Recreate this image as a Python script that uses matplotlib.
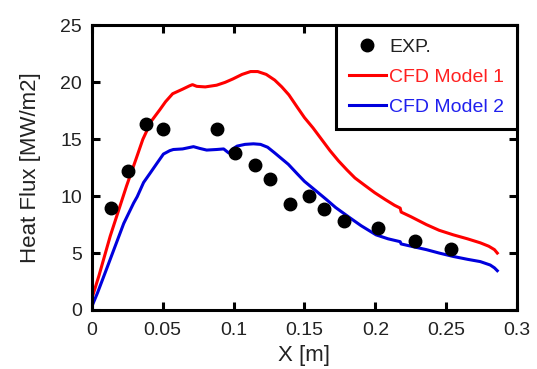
import matplotlib
matplotlib.use("Agg")
import matplotlib.pyplot as plt
from matplotlib.lines import Line2D

plt.rcParams['font.family'] = ['Liberation Sans', 'DejaVu Sans']

# experimental points
exp_x = [0.0134, 0.0255, 0.038, 0.050, 0.088, 0.101, 0.115, 0.126, 0.140, 0.153,
         0.164, 0.178, 0.202, 0.228, 0.253]
exp_y = [9.0, 12.2, 16.3, 15.9, 15.9, 13.8, 12.7, 11.5, 9.3, 10.0,
         8.9, 7.8, 7.2, 6.1, 5.4]

# CFD model 1 (red)
m1_x = [0.0, 0.005, 0.013, 0.0245, 0.031, 0.036, 0.042, 0.048, 0.052, 0.057,
        0.064, 0.069, 0.071, 0.074, 0.080, 0.088, 0.094, 0.0995, 0.106, 0.112,
        0.117, 0.123, 0.129, 0.134, 0.139, 0.145, 0.150, 0.156, 0.162, 0.168,
        0.174, 0.180, 0.1856, 0.192, 0.1996, 0.207, 0.2135, 0.2175, 0.2182, 0.225,
        0.236, 0.245, 0.255, 0.265, 0.274, 0.280, 0.284, 0.286]
m1_y = [1.0, 3.0, 6.5, 10.9, 13.2, 15.0, 16.6, 17.6, 18.3, 19.0,
        19.4, 19.7, 19.8, 19.65, 19.6, 19.75, 20.0, 20.3, 20.7, 20.95,
        20.95, 20.7, 20.2, 19.6, 18.9, 17.8, 16.9, 16.0, 15.0, 14.0,
        13.1, 12.3, 11.6, 11.0, 10.3, 9.7, 9.2, 8.95, 8.6, 8.2,
        7.5, 7.0, 6.6, 6.25, 5.9, 5.6, 5.3, 5.0]

# CFD model 2 (blue)
m2_x = [0.0, 0.004, 0.011, 0.0225, 0.0295, 0.032, 0.0365, 0.041, 0.046, 0.0505,
        0.055, 0.0575, 0.064, 0.0717, 0.076, 0.081, 0.088, 0.093, 0.0965, 0.100,
        0.1025, 0.108, 0.114, 0.119, 0.124, 0.129, 0.1386, 0.145, 0.150, 0.1597,
        0.1655, 0.172, 0.182, 0.190, 0.2005, 0.209, 0.2175, 0.2182, 0.227, 0.236,
        0.245, 0.255, 0.265, 0.274, 0.281, 0.284, 0.286]
m2_y = [0.3, 1.5, 3.8, 7.6, 9.4, 9.95, 11.2, 12.0, 12.9, 13.7,
        14.0, 14.1, 14.15, 14.35, 14.2, 14.05, 14.1, 14.15, 13.8, 14.2,
        14.4, 14.55, 14.6, 14.55, 14.3, 13.8, 12.8, 11.95, 11.3, 10.3,
        9.7, 9.0, 8.1, 7.4, 6.6, 6.25, 6.0, 5.8, 5.55, 5.3,
        5.0, 4.7, 4.45, 4.25, 3.95, 3.7, 3.45]

fig = plt.figure(figsize=(5.37, 3.69), dpi=100)
ax = fig.add_axes([0.171, 0.160, 0.792, 0.771])

ax.plot(m1_x, m1_y, color='#ff0000', lw=2.2)
ax.plot(m2_x, m2_y, color='#0000dd', lw=2.2)
ax.plot(exp_x, exp_y, 'o', color='black', ms=9, ls='none')

ax.set_xlim(0, 0.3)
ax.set_ylim(0, 25)
ax.set_xticks([0, 0.05, 0.1, 0.15, 0.2, 0.25, 0.3])
ax.set_xticklabels(['0', '0.05', '0.1', '0.15', '0.2', '0.25', '0.3'])
ax.set_yticks([0, 5, 10, 15, 20, 25])

for s in ax.spines.values():
    s.set_linewidth(2.2)
ax.tick_params(direction='in', length=6, width=2.2, top=True, right=True,
               labelsize=14, pad=7, labelcolor='#222222')
ax.tick_params(axis='x', pad=9)

ax.set_xlabel('X [m]', fontsize=16, labelpad=4, color='#222222')
ax.set_ylabel('Heat Flux [MW/m2]', fontsize=16, labelpad=14, color='#222222')

handles = [
    Line2D([], [], marker='o', color='black', ls='none', ms=9),
    Line2D([], [], color='#ff0000', lw=2.2),
    Line2D([], [], color='#0000dd', lw=2.2),
]
leg = ax.legend(handles, ['EXP.', 'CFD Model 1', 'CFD Model 2'],
                loc='upper right', borderaxespad=0, fontsize=14,
                labelcolor=['#222222', '#ff2020', '#2020ee'],
                fancybox=False, framealpha=1, edgecolor='black',
                handlelength=1.9, handletextpad=0.2, labelspacing=0.65,
                borderpad=0.65)
leg.get_frame().set_linewidth(2.2)

fig.savefig('out.png', dpi=100)
